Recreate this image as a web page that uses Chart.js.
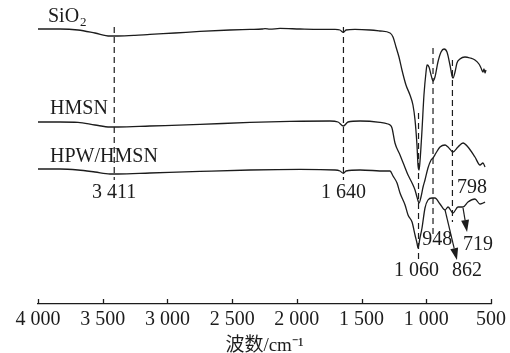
<!DOCTYPE html>
<html>
<head>
<meta charset="utf-8">
<script src="https://cdn.jsdelivr.net/npm/chart.js@4"></script>
<style>
  html, body { margin: 0; padding: 0; background: #fff; }
  #wrap { width: 510px; height: 353px; }
</style>
</head>
<body>
<div id="wrap"><canvas id="ir"></canvas></div>
<script>
// FT-IR spectra, wavenumber (cm-1) vs offset transmittance (a.u.)
const sio2Wn = [4000, 3830, 3691, 3560, 3444, 3382, 3251, 3135, 2942, 2748, 2517, 2362, 2269, 2246, 2208, 2130, 1976, 1821, 1705, 1667, 1640, 1620, 1551, 1435, 1358, 1280, 1257, 1234, 1211, 1188, 1157, 1126, 1103, 1087, 1072, 1064, 1056, 1049, 1033, 1018, 1002, 994, 979, 963, 948, 933, 910, 886, 863, 840, 817, 801, 794, 778, 763, 740, 701, 662, 624, 593, 577, 562, 554, 546, 539];
const sio2T = [137.5, 137.5, 137, 135.5, 134, 134, 134.3, 134.8, 135.5, 136.3, 137, 137.3, 137.5, 137.7, 137.4, 137.8, 137.5, 137.3, 137.3, 137, 135.8, 137, 137.3, 137, 136.5, 135.5, 133.5, 128.5, 123.5, 117, 109.5, 104.5, 99.5, 92, 79.5, 69.5, 67, 71, 87, 104.5, 116, 119.5, 118.5, 114.5, 111.5, 113.5, 121, 126, 127.5, 126, 119.5, 114, 113, 116, 120.5, 122.5, 123.5, 123, 122, 120, 118, 116, 117.5, 115.5, 117];

const hmsnWn = [4000, 3830, 3691, 3560, 3444, 3382, 3135, 2748, 2362, 2053, 1744, 1682, 1640, 1605, 1512, 1358, 1296, 1280, 1265, 1242, 1203, 1172, 1141, 1110, 1087, 1072, 1056, 1041, 1025, 1010, 987, 963, 948, 925, 894, 855, 832, 794, 755, 716, 678, 624, 585, 562, 546];
const hmsnT = [91, 91, 90.8, 89.5, 88.5, 88.5, 89, 89.8, 90.8, 91.3, 91.5, 91, 89, 91, 91.5, 90.8, 90, 89.5, 88, 80.5, 74.5, 69.5, 64.5, 60.5, 57, 53.5, 50.5, 53.5, 58.5, 62, 68, 72, 73, 75.5, 78.5, 79.5, 78.5, 76, 78.5, 80.5, 78.5, 73.5, 69.5, 70.5, 68.5];

const hpwWn = [4000, 3830, 3691, 3560, 3444, 3382, 3135, 2748, 2362, 1976, 1705, 1667, 1640, 1620, 1512, 1319, 1280, 1257, 1226, 1203, 1164, 1141, 1110, 1087, 1072, 1064, 1049, 1033, 1010, 987, 956, 933, 894, 855, 832, 794, 755, 716, 678, 624, 585, 562, 546];
const hpwT = [67.5, 67.5, 67, 66, 65, 65, 65.5, 66.3, 67, 67.3, 67, 66.5, 65.3, 66.5, 67, 66.5, 66.5, 64, 60.5, 55.5, 49.5, 44.5, 41, 34.5, 30.5, 28, 33, 38, 48, 52, 53, 53, 50, 47, 48.5, 45.5, 48.5, 48.5, 51, 52.5, 50, 50.5, 51];

// marked bands: position, top and bottom of the dashed guide
const bandWn = [3411, 1640, 1060, 948, 798];
const bandTop = [138.5, 138.5, 95.5, 128, 122];
const bandBottom = [62, 62, 21, 34.5, 41];

// tick labels of the wavenumber axis
const xTicks = [4000, 3500, 3000, 2500, 2000, 1500, 1000, 500];

const serif = "'Liberation Serif', 'Times New Roman', serif";
const ink = '#1c1c1c';

function fmt(v) {
  return String(v).replace(/\B(?=(\d{3})+(?!\d))/g, ' ');
}

function pts(wn, t) {
  return wn.map((w, i) => ({ x: w, y: t[i] }));
}

const curves = [
  { data: pts(sio2Wn, sio2T) },
  { data: pts(hmsnWn, hmsnT) },
  { data: pts(hpwWn, hpwT) }
].map(d => Object.assign(d, {
  borderColor: ink, borderWidth: 1.3, pointRadius: 0,
  cubicInterpolationMode: 'monotone', fill: false
}));

const guides = bandWn.map((w, i) => ({
  data: [{ x: w, y: bandTop[i] }, { x: w, y: bandBottom[i] }],
  borderColor: ink, borderWidth: 1.2, borderDash: [6, 4],
  pointRadius: 0, fill: false
}));

// text and arrows placed in data coordinates
const notes = [
  { text: fmt(3411), x: 3411, y: 55.5 },
  { text: fmt(1640), x: 1640, y: 55.5 },
  { text: fmt(1060), x: 1075, y: 16.5 },
  { text: '948', x: 916, y: 32 },
  { text: '798', x: 647, y: 58 },
  { text: '719', x: 600, y: 29.5 },
  { text: '862', x: 685, y: 16.5 },
  { text: 'HMSN', x: 3907, y: 97.5, align: 'left' },
  { text: 'HPW/HMSN', x: 3907, y: 73.5, align: 'left' }
];
const arrows = [
  { from: [855, 47], to: [763, 22] },
  { from: [716, 48], to: [685, 36] }
];

const notesPlugin = {
  id: 'notes',
  afterDatasetsDraw(chart) {
    const { ctx, scales: { x, y } } = chart;
    ctx.save();
    ctx.fillStyle = ink;
    ctx.strokeStyle = ink;
    ctx.font = '20px ' + serif;
    ctx.textBaseline = 'middle';
    notes.forEach(n => {
      ctx.textAlign = n.align || 'center';
      ctx.fillText(n.text, x.getPixelForValue(n.x), y.getPixelForValue(n.y));
    });
    // SiO2 with subscript
    const sx = x.getPixelForValue(3923), sy = y.getPixelForValue(143.5);
    ctx.textAlign = 'left';
    ctx.fillText('SiO', sx, sy);
    const w = ctx.measureText('SiO').width;
    ctx.font = '13px ' + serif;
    ctx.fillText('2', sx + w + 1, sy + 6);
    // arrows
    ctx.lineWidth = 1.2;
    arrows.forEach(a => {
      const x0 = x.getPixelForValue(a.from[0]), y0 = y.getPixelForValue(a.from[1]);
      const x1 = x.getPixelForValue(a.to[0]), y1 = y.getPixelForValue(a.to[1]);
      const ang = Math.atan2(y1 - y0, x1 - x0);
      const len = 12, half = 4;
      const bx = x1 - len * Math.cos(ang), by = y1 - len * Math.sin(ang);
      ctx.beginPath();
      ctx.moveTo(x0, y0);
      ctx.lineTo(bx, by);
      ctx.stroke();
      ctx.beginPath();
      ctx.moveTo(x1, y1);
      ctx.lineTo(bx + half * Math.sin(ang), by - half * Math.cos(ang));
      ctx.lineTo(bx - half * Math.sin(ang), by + half * Math.cos(ang));
      ctx.closePath();
      ctx.fill();
    });
    // inward tick marks on the wavenumber axis
    ctx.lineWidth = 1.3;
    xTicks.forEach(t => {
      const px = Math.round(x.getPixelForValue(t)) + 0.5;
      ctx.beginPath();
      ctx.moveTo(px, x.top);
      ctx.lineTo(px, x.top - 5);
      ctx.stroke();
    });
    ctx.restore();
  }
};

new Chart(document.getElementById('ir'), {
  type: 'line',
  data: { datasets: curves.concat(guides) },
  options: {
    responsive: true,
    maintainAspectRatio: false,
    animation: false,
    layout: { padding: { left: 38, right: 19, top: 4, bottom: 0 } },
    plugins: { legend: { display: false }, tooltip: { enabled: false } },
    scales: {
      x: {
        type: 'linear',
        reverse: true,
        min: 500,
        max: 4000,
        afterBuildTicks: s => { s.ticks = xTicks.map(v => ({ value: v })); },
        afterFit: s => { s.height = 49; },
        ticks: {
          callback: v => fmt(v),
          color: ink,
          padding: 4,
          maxRotation: 0,
          autoSkip: false,
          font: { family: serif, size: 20 }
        },
        grid: { drawOnChartArea: false, drawTicks: false },
        border: { color: ink, width: 1.3 },
        title: {
          display: true,
          text: '波数/cm⁻¹',
          color: ink,
          padding: { top: 0, bottom: 0 },
          font: { family: "'Liberation Serif', 'Noto Sans CJK SC', serif", size: 19, lineHeight: 0.7 }
        }
      },
      y: { display: false, min: 0, max: 150 }
    }
  },
  plugins: [notesPlugin]
});
</script>
</body>
</html>
